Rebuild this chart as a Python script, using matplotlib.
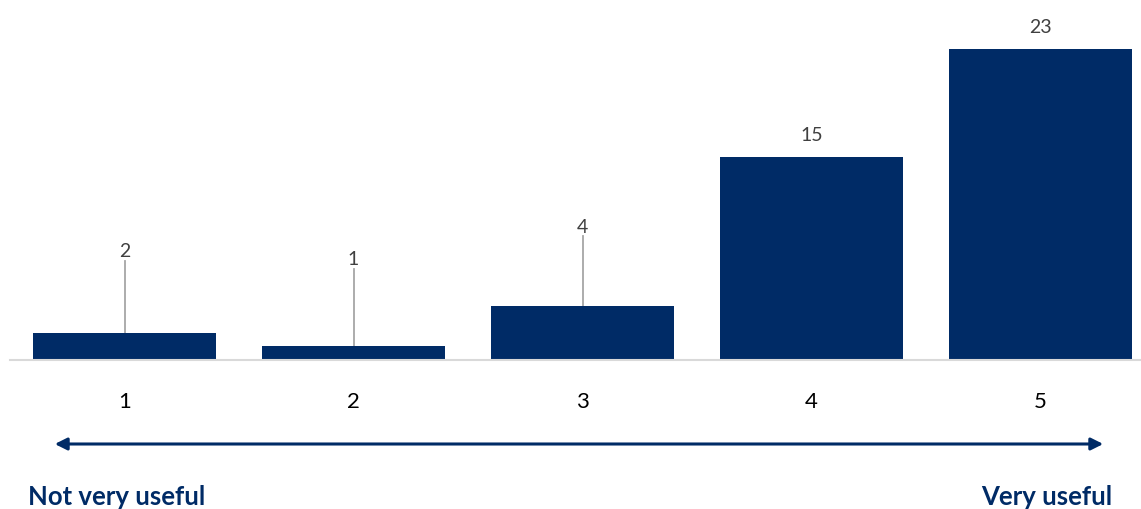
import matplotlib
matplotlib.use("Agg")
import matplotlib.pyplot as plt

# data
categories = ["1", "2", "3", "4", "5"]
counts = [2, 1, 4, 15, 23]
low_label = "Not very useful"
high_label = "Very useful"

navy = "#002b66"
label_grey = "#404040"
leader_grey = "#a6a6a6"

# small bars get their label lifted up on a leader line (data units)
leader_label_y = {0: 8.1, 1: 7.5, 2: 9.9}

plt.rcParams['font.family'] = ['Lato', 'DejaVu Sans']

fig = plt.figure(figsize=(11.41, 5.10), dpi=100)
ax = fig.add_axes([10 / 1141, 149 / 510, 1131 / 1141, 361 / 510])

x = list(range(1, len(categories) + 1))
bars = ax.bar(x, counts, width=0.795, color=navy, zorder=2)

ax.set_xlim(0.5, 0.5 + 1131 / 229)
ax.set_ylim(0, 26.74)

for i, (xi, v) in enumerate(zip(x, counts)):
    if i in leader_label_y:
        ly = leader_label_y[i]
        ax.plot([xi, xi], [v, ly - 0.75], color=leader_grey, lw=1.3, zorder=1)
        ax.text(xi, ly, str(v), ha="center", va="center", fontsize=14,
                color=label_grey)
    else:
        ax.text(xi, v + 1.7, str(v), ha="center", va="center", fontsize=14,
                color=label_grey)

for s in ["top", "right", "left"]:
    ax.spines[s].set_visible(False)
ax.spines["bottom"].set_color("#d9d9d9")
ax.spines["bottom"].set_linewidth(1.5)
ax.set_yticks([])
ax.set_xticks(x)
ax.set_xticklabels(categories, fontsize=16, color="black")
ax.tick_params(axis="x", length=0, pad=22)

# scale arrow under the axis
fig.patches.append(matplotlib.patches.FancyArrowPatch(
    (52 / 1141, 1 - 445 / 510), (1106 / 1141, 1 - 445 / 510),
    transform=fig.transFigure, arrowstyle="<|-|>", mutation_scale=18,
    color=navy, lw=2.2))

fig.text(28 / 1141, 1 - 497 / 510, low_label, ha="left", va="center",
         fontsize=18.5, fontweight="bold", color=navy)
fig.text(1112 / 1141, 1 - 497 / 510, high_label, ha="right", va="center",
         fontsize=18.5, fontweight="bold", color=navy)

fig.savefig("out.png", dpi=100)
